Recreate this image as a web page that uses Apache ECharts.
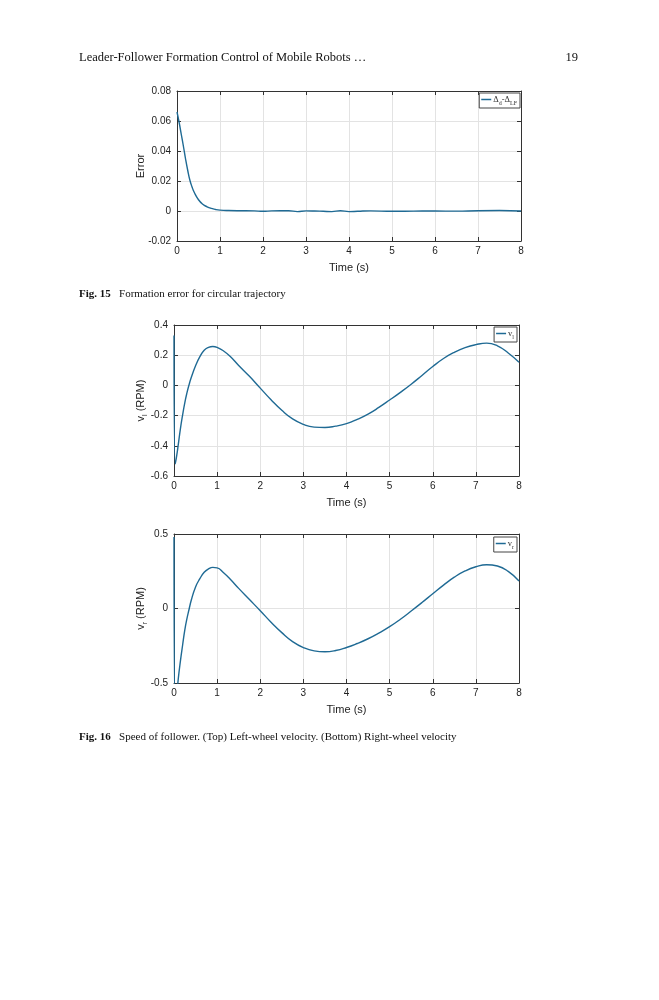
<!DOCTYPE html>
<html>
<head>
<meta charset="utf-8">
<script src="https://cdn.jsdelivr.net/npm/echarts@6/dist/echarts.min.js"></script>
<style>
  html, body { margin: 0; padding: 0; background: #fff; }
  #page { width: 659px; height: 1000px; }
</style>
</head>
<body>
<div id="page"></div>
<script>
// Fig. 15 - formation error
const errTime = [0, 0.05, 0.1, 0.15, 0.2, 0.25, 0.3, 0.35, 0.4, 0.5, 0.6, 0.7, 0.8, 0.9, 1.0, 1.2, 1.4, 1.6, 1.8, 2.0, 2.2, 2.4, 2.6, 2.8, 3.0, 3.2, 3.4, 3.6, 3.8, 4.0, 4.2, 4.5, 5.0, 5.5, 6.0, 6.5, 7.0, 7.5, 8.0]
const errValue = [0.066, 0.059, 0.051, 0.043, 0.0345, 0.027, 0.0205, 0.016, 0.0125, 0.0075, 0.0045, 0.0028, 0.0017, 0.001, 0.0006, 0.0003, 0.0002, 0.0002, 0.0001, -0.0002, 0.0001, 0.0002, 0.0002, -0.0004, 0.0001, 0.0, -0.0002, -0.0004, 0.0002, -0.0004, -0.0002, 0.0001, -0.0002, -0.0001, 0.0, -0.0001, 0.0002, 0.0003, 0.0]

// Fig. 16 top - left wheel velocity
const vlTime = [0, 0.03, 0.06, 0.1, 0.15, 0.2, 0.25, 0.3, 0.35, 0.4, 0.5, 0.6, 0.7, 0.8, 0.9, 1.0, 1.15, 1.3, 1.5, 1.75, 2.0, 2.25, 2.5, 2.75, 3.0, 3.25, 3.5, 3.75, 4.0, 4.25, 4.5, 4.75, 5.0, 5.25, 5.5, 5.75, 6.0, 6.25, 6.5, 6.75, 7.0, 7.25, 7.5, 7.75, 8.0]
const vlValue = [0.33, -0.52, -0.47, -0.39, -0.285, -0.195, -0.115, -0.05, 0.005, 0.052, 0.13, 0.19, 0.233, 0.252, 0.258, 0.252, 0.228, 0.193, 0.132, 0.06, -0.018, -0.095, -0.165, -0.222, -0.258, -0.276, -0.279, -0.27, -0.253, -0.225, -0.19, -0.146, -0.097, -0.046, 0.008, 0.066, 0.125, 0.178, 0.219, 0.25, 0.27, 0.28, 0.262, 0.215, 0.154]

// Fig. 16 bottom - right wheel velocity
const vrTime = [0, 0.03, 0.06, 0.1, 0.15, 0.2, 0.25, 0.3, 0.35, 0.4, 0.5, 0.6, 0.7, 0.8, 0.9, 1.0, 1.15, 1.3, 1.5, 1.75, 2.0, 2.25, 2.5, 2.75, 3.0, 3.25, 3.5, 3.75, 4.0, 4.25, 4.5, 4.75, 5.0, 5.25, 5.5, 5.75, 6.0, 6.25, 6.5, 6.75, 7.0, 7.25, 7.5, 7.75, 8.0]
const vrValue = [0.48, -0.72, -0.6, -0.47, -0.35, -0.245, -0.145, -0.068, -0.005, 0.055, 0.145, 0.2, 0.243, 0.266, 0.276, 0.273, 0.24, 0.198, 0.135, 0.06, -0.015, -0.092, -0.162, -0.222, -0.262, -0.284, -0.29, -0.282, -0.262, -0.235, -0.203, -0.165, -0.122, -0.072, -0.017, 0.04, 0.099, 0.157, 0.21, 0.252, 0.28, 0.294, 0.285, 0.249, 0.185]

const yRanges = [
  { min: -0.02, max: 0.08, interval: 0.02 },
  { min: -0.6, max: 0.4, interval: 0.2 },
  { min: -0.5, max: 0.5, interval: 0.5 }
]

const lineColor = '#1f6a94'
const axisColor = '#333'
const sans = 'Liberation Sans, Arial, sans-serif'
const serif = 'Liberation Serif, Times New Roman, serif'

const grids = [
  { left: 177, top: 91, width: 344, height: 150 },
  { left: 174, top: 325, width: 345, height: 151 },
  { left: 174, top: 534, width: 345, height: 149 }
]

function pairs (xs, ys) {
  return xs.map((x, i) => [x, ys[i]])
}

const xAxes = []
const yAxes = []
grids.forEach((g, i) => {
  // bottom axis with labels
  xAxes.push({
    type: 'value', gridIndex: i, min: 0, max: 8, interval: 1, position: 'bottom',
    name: 'Time (s)', nameLocation: 'middle', nameGap: 21,
    nameTextStyle: { fontFamily: sans, fontSize: 11, color: '#222' },
    axisLine: { onZero: false, lineStyle: { color: axisColor, width: 1 } },
    axisTick: { inside: true, length: 4, lineStyle: { color: axisColor } },
    axisLabel: { fontFamily: sans, fontSize: 10, color: '#222', margin: 5 },
    splitLine: { show: true, lineStyle: { color: '#e3e3e3', width: 1 } }
  })
  // top edge, ticks only
  xAxes.push({
    type: 'value', gridIndex: i, min: 0, max: 8, interval: 1, position: 'top',
    axisLine: { show: true, onZero: false, lineStyle: { color: axisColor, width: 1 } },
    axisTick: { inside: true, length: 4, lineStyle: { color: axisColor } },
    axisLabel: { show: false },
    splitLine: { show: false }
  })
  const r = yRanges[i]
  yAxes.push({
    type: 'value', gridIndex: i, min: r.min, max: r.max, interval: r.interval, position: 'left',
    nameLocation: 'middle', nameRotate: 90, nameMoveOverlap: false,
    axisLine: { show: true, onZero: false, lineStyle: { color: axisColor, width: 1 } },
    axisTick: { show: true, inside: true, length: 4, lineStyle: { color: axisColor } },
    axisLabel: {
      fontFamily: sans, fontSize: 10, color: '#222', margin: 6,
      formatter: v => String(Math.round(v * 100) / 100)
    },
    splitLine: { show: true, lineStyle: { color: '#e3e3e3', width: 1 } }
  })
  yAxes.push({
    type: 'value', gridIndex: i, min: r.min, max: r.max, interval: r.interval, position: 'right',
    axisLine: { show: true, onZero: false, lineStyle: { color: axisColor, width: 1 } },
    axisTick: { show: true, inside: true, length: 4, lineStyle: { color: axisColor } },
    axisLabel: { show: false },
    splitLine: { show: false }
  })
})

// y axis titles
yAxes[0].name = 'Error'
yAxes[0].nameGap = 31
yAxes[0].nameTextStyle = { fontFamily: sans, fontSize: 11, color: '#222' }

const subRich = {
  a: { fontFamily: sans, fontSize: 11, color: '#222' },
  s: { fontFamily: sans, fontSize: 7, color: '#222', verticalAlign: 'bottom', lineHeight: 16 }
}
yAxes[2].name = '{a|v}{s|l}{a| (RPM)}'
yAxes[2].nameGap = 25
yAxes[2].nameTextStyle = { rich: subRich }
yAxes[4].name = '{a|v}{s|r}{a| (RPM)}'
yAxes[4].nameGap = 25
yAxes[4].nameTextStyle = { rich: subRich }

const series = [
  { name: 'err', data: pairs(errTime, errValue), idx: 0 },
  { name: 'vl', data: pairs(vlTime, vlValue), idx: 1 },
  { name: 'vr', data: pairs(vrTime, vrValue), idx: 2 }
].map(s => ({
  name: s.name,
  type: 'line',
  xAxisIndex: s.idx * 2,
  yAxisIndex: s.idx * 2,
  data: s.data,
  showSymbol: false,
  symbol: 'none',
  smooth: 0.5,
  clip: true,
  lineStyle: { color: lineColor, width: 1.4 },
  itemStyle: { color: lineColor },
  animation: false
}))

const legendRich = {
  t: { fontFamily: serif, fontSize: 8.5, color: '#333' },
  s: { fontFamily: serif, fontSize: 6, color: '#333', verticalAlign: 'bottom', lineHeight: 13 }
}
function legendBox (name, right, top, text) {
  return {
    data: [name],
    right: right, top: top,
    orient: 'vertical',
    icon: 'rect', itemWidth: 10, itemHeight: 1.5, itemGap: 0,
    padding: [2, 3, 2, 2],
    backgroundColor: '#fff',
    borderColor: '#444', borderWidth: 1, borderRadius: 0,
    selectedMode: false,
    formatter: () => text,
    textStyle: { padding: [0, 0, 0, -3], rich: legendRich }
  }
}

const option = {
  backgroundColor: '#fff',
  animation: false,
  grid: grids.map(g => Object.assign({ containLabel: false }, g)),
  xAxis: xAxes,
  yAxis: yAxes,
  legend: [
    legendBox('err', 659 - 520, 93, '{t|Δ}{s|d}{t|-Δ}{s|LF}'),
    legendBox('vl', 659 - 517, 327, '{t|v}{s|l}'),
    legendBox('vr', 659 - 517, 537, '{t|v}{s|r}')
  ],
  series: series,
  graphic: [
    {
      type: 'text', left: 79, top: 51,
      style: { text: 'Leader-Follower Formation Control of Mobile Robots …', font: '12.5px ' + serif, fill: '#111' }
    },
    {
      type: 'text', right: 659 - 578, top: 51,
      style: { text: '19', font: '12.5px ' + serif, fill: '#111', textAlign: 'right' }
    },
    {
      type: 'text', left: 79, top: 289,
      style: {
        text: '{b|Fig. 15}   Formation error for circular trajectory',
        font: '11px ' + serif, fill: '#111',
        rich: { b: { fontFamily: serif, fontSize: 11, fontWeight: 'bold', fill: '#111' } }
      }
    },
    {
      type: 'text', left: 79, top: 732,
      style: {
        text: '{b|Fig. 16}   Speed of follower. (Top) Left-wheel velocity. (Bottom) Right-wheel velocity',
        font: '11px ' + serif, fill: '#111',
        rich: { b: { fontFamily: serif, fontSize: 11, fontWeight: 'bold', fill: '#111' } }
      }
    }
  ]
}

const chart = echarts.init(document.getElementById('page'), null, { renderer: 'canvas' })
chart.setOption(option)
</script>
</body>
</html>
